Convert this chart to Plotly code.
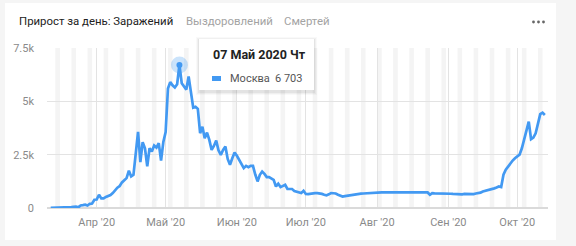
import pandas as pd
import plotly.graph_objects as go

# ---- data (Moscow, daily new cases) ----
start_date = "2020-03-12"
mar = [3, 5, 6, 9, 12, 8, 13, 30, 15, 40, 55, 70, 30, 120, 136, 157, 114, 197, 212, 387]
apr = [400, 620, 450, 450, 520, 560, 610, 700, 850, 950, 1030, 1200, 1300, 1400, 1750,
       1480, 1555, 2450, 3570, 2150, 3083, 2800, 1958, 2800, 2645, 2925, 2830, 3040, 2220, 3093]
may = [3561, 5600, 5900, 5750, 5650, 5800, 6703, 5846, 5667, 5550, 6169, 5392, 4703, 4748, 4650,
       3505, 3810, 3270, 3535, 3190, 2725, 2910, 3160, 2700, 2490, 2725, 2880, 2300, 2025, 2335, 2600]
jun = [2450, 2255, 2050, 1870, 1975, 1915, 1975, 1975, 1570, 1245, 1555, 1710, 1600, 1450, 1450,
       1400, 1320, 1010, 1135, 980, 1050, 1090, 890, 880, 890, 800, 776, 720, 700, 810]
jul = [660, 655, 680, 700, 700, 700, 690, 660, 620, 590, 640, 700, 690, 680, 620,
       560, 540, 560, 580, 600, 610, 620, 640, 655, 670, 680, 690, 700, 700, 710, 720]
aug = [720, 725, 730, 730, 735, 730, 730, 730, 730, 730, 730, 730, 730, 730, 730,
       730, 730, 730, 730, 730, 730, 730, 730, 620, 700, 690, 690, 668, 690, 700, 700]
sep = [700, 668, 660, 650, 670, 650, 640, 660, 650, 660, 660, 650, 680, 700, 720,
       776, 800, 820, 860, 900, 920, 960, 1010, 980, 1560, 1792, 1945, 2100, 2225, 2335]
oct_ = [2410, 2500, 2800, 3200, 3600, 4050, 3225, 3300, 3500, 3950, 4400, 4470, 4360]

values = mar + apr + may + jun + jul + aug + sep + oct_
dates = pd.date_range(start_date, periods=len(values), freq="D")
series_name = "Москва"

month_ticks = ["2020-04-01", "2020-05-01", "2020-06-01", "2020-07-01",
               "2020-08-01", "2020-09-01", "2020-10-01"]
month_labels = ["Апр '20", "Май '20", "Июн '20", "Июл '20", "Авг '20", "Сен '20", "Окт '20"]
y_ticks = [0, 2500, 5000, 7500]
y_labels = ["0", "2.5k", "5k", "7.5k"]

tabs = ["Прирост за день: Заражений", "Выздоровлений", "Смертей"]
peak_date = pd.Timestamp("2020-05-07")
peak_value = values[list(dates).index(peak_date)]

# ---- layout geometry (pixels) ----
W, H = 576, 246
L, R, T, B = 47, 28, 48, 38
PW, PH = W - L - R, H - T - B

def px(X):
    return (X - L) / PW

def py(Y):
    return (H - B - Y) / PH

BLUE = "#4299f2"
FONT = "Roboto, 'Open Sans', sans-serif"

fig = go.Figure()

fig.add_trace(go.Scatter(x=dates, y=values, mode="lines",
                         line=dict(color=BLUE, width=2.7, shape="linear"),
                         hoverinfo="skip", showlegend=False))
fig.add_trace(go.Scatter(x=[peak_date], y=[peak_value], mode="markers",
                         marker=dict(size=17, color="rgba(66,153,242,0.28)"),
                         hoverinfo="skip", showlegend=False))
fig.add_trace(go.Scatter(x=[peak_date], y=[peak_value], mode="markers",
                         marker=dict(size=6, color=BLUE),
                         hoverinfo="skip", showlegend=False))

shapes = []
# card background
shapes.append(dict(type="rect", xref="paper", yref="paper", layer="below",
                   x0=px(5), x1=px(556), y0=py(240), y1=py(3),
                   fillcolor="white", line=dict(width=0)))
# weekend bands
x_start = pd.Timestamp("2020-03-10 09:00")
x_end = pd.Timestamp("2020-10-14 09:00")
d = pd.Timestamp("2020-03-07")
while d < x_end:
    if d.weekday() == 5:
        shapes.append(dict(type="rect", xref="x", yref="y", layer="below",
                           x0=d, x1=d + pd.Timedelta(days=2), y0=0, y1=7500,
                           fillcolor="#f4f4f4", line=dict(width=0)))
    d += pd.Timedelta(days=1)

# tooltip shadow + box
for i, a in enumerate([0.025, 0.035, 0.05]):
    g = 3 - i
    shapes.append(dict(type="rect", xref="paper", yref="paper", layer="above",
                       x0=px(199 - g), x1=px(314 + g), y0=py(91 + g + 1), y1=py(39 - g + 1),
                       fillcolor=f"rgba(0,0,0,{a})", line=dict(width=0)))
shapes.append(dict(type="rect", xref="paper", yref="paper", layer="above",
                   x0=px(199), x1=px(314), y0=py(90), y1=py(39),
                   fillcolor="white", line=dict(width=0)))
shapes.append(dict(type="rect", xref="paper", yref="paper", layer="above",
                   x0=px(212), x1=px(221), y0=py(81), y1=py(76),
                   fillcolor=BLUE, line=dict(width=0)))
# "more" menu dots
for cx in (533.5, 538.5, 543.5):
    shapes.append(dict(type="circle", xref="paper", yref="paper", layer="above",
                       x0=px(cx - 1.4), x1=px(cx + 1.4), y0=py(23.4), y1=py(20.6),
                       fillcolor="#666", line=dict(width=0)))

annotations = []
tab_x = [17, 184, 282]
tab_col = ["#222222", "#a3a3a3", "#a3a3a3"]
for t, xx, c in zip(tabs, tab_x, tab_col):
    annotations.append(dict(text=t, xref="paper", yref="paper", x=px(xx), y=py(21),
                            xanchor="left", yanchor="middle", showarrow=False,
                            font=dict(size=11.4, color=c, family=FONT)))
# tooltip texts
wd = ["Пн", "Вт", "Ср", "Чт", "Пт", "Сб", "Вс"][peak_date.weekday()]
mon = month_labels[peak_date.month - 4].split(" ")[0]
annotations.append(dict(text=f"<b>{peak_date.day:02d} {mon} {peak_date.year} {wd}</b>",
                        xref="paper", yref="paper", x=px(211), y=py(55),
                        xanchor="left", yanchor="middle", showarrow=False,
                        font=dict(size=12.5, color="#222", family=FONT)))
annotations.append(dict(text=series_name, xref="paper", yref="paper", x=px(228), y=py(78.5),
                        xanchor="left", yanchor="middle", showarrow=False,
                        font=dict(size=11, color="#555", family=FONT)))
annotations.append(dict(text=f"{peak_value:,}".replace(",", " "), xref="paper", yref="paper",
                        x=px(273), y=py(78.5), xanchor="left", yanchor="middle", showarrow=False,
                        font=dict(size=11, color="#555", family=FONT)))

fig.update_layout(
    width=W, height=H,
    margin=dict(l=L, r=R, t=T, b=B, pad=0),
    paper_bgcolor="#f5f5f5", plot_bgcolor="rgba(0,0,0,0)",
    shapes=shapes, annotations=annotations,
    font=dict(family=FONT, color="#888"),
    xaxis=dict(range=[x_start, x_end], tickvals=month_ticks, ticktext=month_labels,
               showgrid=True, gridcolor="#e3e3e3", gridwidth=1, zeroline=False,
               showline=False, ticks="", ticklabelstandoff=6,
               tickfont=dict(size=11, color="#8a8a8a"),
               fixedrange=True),
    yaxis=dict(range=[0, 7500], tickvals=y_ticks, ticktext=y_labels,
               showgrid=True, gridcolor="#e3e3e3", gridwidth=1, zeroline=True,
               zerolinecolor="#dadada", zerolinewidth=2, showline=False, ticks="",
               ticklabelstandoff=12,
               tickfont=dict(size=11, color="#8a8a8a"), fixedrange=True),
    hovermode=False,
)

fig.write_html("out.html", config={"displayModeBar": False})
